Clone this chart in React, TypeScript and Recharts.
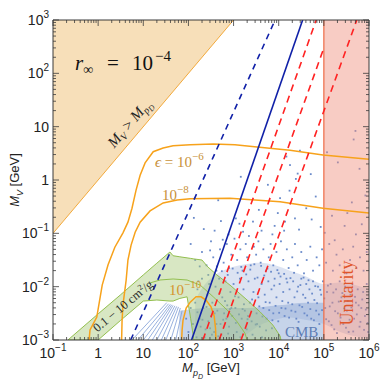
import React from "react";
import { Area, ComposedChart, Line, Scatter, XAxis, YAxis } from "recharts";

// every value is log10: x = log10(M_pD / GeV), y = log10(M_V / GeV)
const xMajor = [-1, 0, 1, 2, 3, 4, 5, 6];
const yMajor = [-3, -2, -1, 0, 1, 2, 3];
const minorSteps = [0.301, 0.477, 0.602, 0.699, 0.778, 0.845, 0.903, 0.954];

// filled regions: [x, low, high]
const forbidden = [[-1, -1, 3], [3, 3, 3]];
const cmbRegion = [[1.8, -3, -2.45], [2.5, -3, -2.4], [3.3, -3, -2.4], [4.0, -3, -2.35], [4.6, -3, -2.3], [5.0, -3, -2.3]];
const denseCloud = [
  [2.15, -3, -2.25], [2.37, -3, -1.95], [2.59, -3, -1.78], [2.92, -3, -1.65], [3.25, -2.91, -1.58],
  [3.59, -2.72, -1.55], [3.92, -2.62, -1.6], [4.25, -2.58, -1.7], [4.58, -2.62, -1.8],
  [5.0, -2.7, -1.95], [5.36, -2.85, -1.92], [5.69, -2.93, -1.97], [6.0, -2.97, -2.05],
];
const sigmaBand = [
  [-0.67, -3, -3], [0.0, -3, -2.51], [0.5, -2.63, -2.15], [1.0, -2.27, -1.78], [1.3, -2.25, -1.56],
  [1.59, -2.27, -1.35], [1.66, -2.27, -1.42], [1.81, -2.22, -1.44], [1.97, -2.19, -1.46],
  [2.05, -2.6, -1.47], [2.12, -3, -1.48], [2.3, -3, -1.5], [2.43, -3, -1.63], [2.63, -3, -1.78],
  [2.92, -3, -1.97], [3.3, -3, -2.25], [3.59, -3, -2.475], [3.87, -3, -2.72], [4.03, -3, -2.925], [4.05, -3, -3],
];
const unitarity = [[5, -3, 3], [6, -3, 3]];

// curves: [x, y]
const diagonal = [[-1, -1], [3, 3]];
const sigmaMid = [[1.15, -1.93], [1.37, -1.875], [1.66, -1.856], [1.97, -1.875], [2.26, -1.97], [2.55, -2.19], [2.86, -2.44], [3.08, -2.66], [3.25, -2.87], [3.3, -3]];
const eps6 = [
  [-0.2, -3], [-0.18, -2.81], [-0.03, -2.57], [0.09, -1.97], [0.22, -1.59], [0.37, -1.26], [0.55, -0.99],
  [0.66, -0.79], [0.75, -0.53], [0.84, -0.19], [0.93, 0.09], [1.04, 0.32], [1.22, 0.53], [1.44, 0.6],
  [1.66, 0.64], [2.04, 0.66], [2.55, 0.675], [3.03, 0.66], [3.52, 0.62], [4.25, 0.56], [4.98, 0.47], [6.0, 0.39],
];
const eps8 = [
  [0.52, -3], [0.53, -2.63], [0.55, -2.34], [0.62, -1.88], [0.66, -1.5], [0.73, -1.22], [0.82, -0.98],
  [0.93, -0.79], [1.15, -0.58], [1.44, -0.43], [1.75, -0.375], [2.04, -0.35], [2.92, -0.34], [4.03, -0.41], [4.98, -0.53], [6.0, -0.62],
];
const eps10 = [[1.85, -3], [1.86, -2.81], [1.88, -2.63], [1.95, -2.4], [2.04, -2.29], [2.17, -2.19], [2.28, -2.19], [2.39, -2.25], [2.5, -2.38], [2.57, -2.55], [2.6, -2.78], [2.61, -3]];
const blueDashed = [[0.72, -3], [3.92, 3]];
const blueSolid = [[2.07, -3], [4.53, 3]];
const redA = [[2.32, -3], [4.83, 3]];
const redB = [[2.68, -3], [5.0, 2.475]];
const redC = [[3.165, -3], [5.73, 3]];
// fan streaks under the band: [x at bottom, x at top, y at top]
const fan = [[0.75, 1.52, -2.3], [0.88, 1.56, -2.32], [1.0, 1.6, -2.33], [1.1, 1.63, -2.34], [1.2, 1.66, -2.35], [1.3, 1.7, -2.36], [1.4, 1.74, -2.37], [1.5, 1.78, -2.38], [1.61, 1.82, -2.4], [1.72, 1.86, -2.45]];

const sparsePoints = [
  [4.17, 0.44], [4.25, 0.28], [4.42, 0.12], [3.76, -0.09], [4.03, -0.34], [4.24, -0.2], [4.38, 0.02], [4.36, -0.72], [4.82, -0.31],
  [4.93, -0.88], [5.07, 0.52], [5.62, -0.42], [5.7, 0.92], [5.66, 0.76], [5.79, 0.21], [5.46, -0.86], [5.71, -1.02], [3.13, -0.82],
  [3.21, -0.97], [3.43, -0.78], [2.72, -0.77], [2.66, -0.38], [2.12, -0.71], [2.34, -0.92], [3.16, 0.06], [3.56, -0.56], [3.91, -0.86],
  [4.61, -0.53], [4.71, 0.11], [5.31, 0.33], [5.92, -0.29], [4.47, 0.55], [3.98, -0.62], [2.89, -1.02], [5.18, -0.67], [4.12, -0.95],
  [2.58, -0.95], [2.76, -1.12], [3.05, -0.72], [3.34, -1.05], [3.62, -0.95], [3.86, -1.02], [4.14, -0.78], [4.45, -0.93],
  [4.73, -0.74], [5.02, -0.99], [5.24, -1.13], [5.52, -0.62], [5.84, -0.83],
];
const midPoints = [
  [2.05, -1.2], [2.15, -1.5], [2.3, -1.35], [2.4, -1.6], [2.5, -1.15], [2.55, -1.45], [2.62, -1.7], [2.7, -1.3], [2.78, -1.55],
  [2.85, -1.2], [2.9, -1.65], [2.95, -1.4], [3.02, -1.1], [3.08, -1.5], [3.15, -1.3], [3.2, -1.7], [3.27, -1.2], [3.3, -1.45],
  [3.38, -1.6], [3.45, -1.25], [3.5, -1.4], [3.55, -1.15], [3.6, -1.55], [3.66, -1.3], [3.72, -1.7], [3.78, -1.45], [3.82, -1.2],
  [3.88, -1.6], [3.95, -1.35], [4.0, -1.75], [4.05, -1.15], [4.1, -1.5], [4.18, -1.3], [4.22, -1.65], [4.3, -1.45], [4.36, -1.2],
  [4.42, -1.6], [4.5, -1.35], [4.56, -1.75], [4.62, -1.5], [4.7, -1.25], [4.76, -1.7], [4.84, -1.45], [4.9, -1.6], [4.96, -1.3],
  [5.05, -1.55], [5.12, -1.2], [5.2, -1.7], [5.28, -1.4], [5.35, -1.6], [5.42, -1.3], [5.5, -1.75], [5.58, -1.5], [5.65, -1.25],
  [5.72, -1.65], [5.8, -1.45], [5.88, -1.7], [5.95, -1.35], [2.48, -1.32], [2.25, -1.62], [2.44, -1.78], [2.22, -1.9],
];
const densePoints = [
  [2.15, -2.3], [2.2, -2.05], [2.25, -2.6], [2.3, -1.85], [2.33, -2.4], [2.38, -2.8], [2.42, -2.15], [2.46, -1.95], [2.5, -2.55],
  [2.53, -2.3], [2.57, -2.85], [2.6, -2.0], [2.64, -2.45], [2.68, -1.85], [2.71, -2.7], [2.75, -2.2], [2.79, -2.5], [2.82, -1.9],
  [2.86, -2.35], [2.9, -2.75], [2.93, -2.1], [2.97, -2.55], [3.0, -1.95], [3.04, -2.4], [3.07, -2.85], [3.11, -2.2], [3.14, -1.85],
  [3.18, -2.6], [3.22, -2.05], [3.25, -2.45], [3.29, -2.8], [3.33, -1.9], [3.36, -2.3], [3.4, -2.65], [3.44, -2.1], [3.47, -1.85],
  [3.51, -2.5], [3.55, -2.2], [3.58, -2.75], [3.62, -1.95], [3.66, -2.4], [3.69, -2.15], [3.73, -2.6], [3.77, -1.9], [3.8, -2.3],
  [3.84, -2.05], [3.88, -2.5], [3.91, -1.85], [3.95, -2.2], [3.99, -2.65], [4.02, -1.95], [4.06, -2.4], [4.1, -2.1], [4.13, -2.55],
  [4.17, -1.85], [4.21, -2.3], [4.24, -2.05], [4.28, -2.45], [4.32, -1.9], [4.35, -2.2], [4.39, -2.6], [4.43, -2.0], [4.46, -2.35],
  [4.5, -1.85], [4.54, -2.15], [4.57, -2.5], [4.61, -1.95], [4.65, -2.3], [4.68, -2.05], [4.72, -2.6], [4.76, -1.9], [4.79, -2.25],
  [4.83, -2.45], [4.87, -2.0], [4.9, -2.7], [4.94, -2.15], [4.98, -1.9], [5.03, -2.4], [5.07, -2.1], [5.11, -2.65], [5.15, -1.95],
  [5.19, -2.3], [5.23, -2.8], [5.27, -2.05], [5.31, -2.5], [5.35, -1.9], [5.39, -2.2], [5.43, -2.7], [5.47, -2.0], [5.51, -2.45],
  [5.55, -2.85], [5.59, -2.15], [5.63, -1.95], [5.67, -2.6], [5.71, -2.3], [5.75, -2.05], [5.79, -2.75], [5.83, -2.4], [5.87, -2.1],
  [5.91, -2.55], [5.95, -1.95], [5.98, -2.85],
  [2.63, -1.62], [2.69, -2.12], [2.74, -1.71], [2.81, -2.27], [2.87, -1.78], [2.92, -2.42], [2.98, -1.66], [3.03, -2.18], [3.09, -1.74],
  [3.12, -2.52], [3.17, -1.63], [3.23, -2.33], [3.28, -1.77], [3.31, -2.61], [3.37, -1.68], [3.41, -2.24], [3.46, -1.58], [3.49, -2.71],
  [3.53, -1.83], [3.57, -2.37], [3.61, -1.61], [3.64, -2.56], [3.68, -1.79], [3.71, -2.29], [3.75, -1.66], [3.79, -2.44], [3.83, -1.72],
  [3.86, -2.63], [3.9, -1.98], [3.93, -2.36], [3.97, -1.69], [4.01, -2.49], [4.04, -1.81], [4.08, -2.27], [4.12, -1.76], [4.15, -2.41],
  [4.19, -1.92], [4.23, -2.58], [4.26, -1.84], [4.3, -2.33], [4.34, -1.74], [4.37, -2.47], [4.41, -2.09], [4.44, -2.66], [4.48, -1.97],
  [4.52, -2.38], [4.55, -1.83], [4.59, -2.21], [4.63, -2.54], [4.66, -1.88], [4.7, -2.42], [4.74, -2.13], [4.78, -2.63], [4.81, -1.99],
  [4.85, -2.31], [4.89, -2.52], [4.92, -2.06], [4.96, -2.44], [5.01, -2.22], [5.05, -2.61], [5.09, -1.98], [5.13, -2.37], [5.17, -2.72],
  [5.21, -2.11], [5.25, -2.46], [5.29, -2.87], [5.33, -2.28], [5.37, -2.58], [5.41, -2.12], [5.45, -2.41], [5.49, -2.77], [5.53, -2.27],
  [5.57, -2.62], [5.61, -2.39], [5.65, -2.84], [5.69, -2.19], [5.73, -2.52], [5.77, -2.35], [5.81, -2.66], [5.85, -2.24], [5.89, -2.81],
  [5.93, -2.43], [5.97, -2.68],
  [1.95, -2.6], [2.0, -2.85], [2.05, -2.4], [2.1, -2.7], [2.18, -2.95], [2.27, -2.75], [2.36, -2.95], [2.44, -2.65], [2.52, -2.9],
  [2.62, -2.7], [2.73, -2.9], [2.84, -2.6], [2.2, -2.48], [2.31, -2.62], [2.4, -2.38], [2.48, -2.78], [2.58, -2.5], [2.66, -2.93],
  [2.77, -2.62], [2.88, -2.88], [2.95, -2.4], [3.05, -2.68], [3.15, -2.95], [3.2, -2.42], [3.32, -2.55], [3.42, -2.9], [3.52, -2.7],
  [3.63, -2.95], [3.72, -2.82], [3.85, -2.78],
];

const xTicks = [...xMajor, ...xMajor.slice(0, -1).flatMap((n) => minorSteps.map((s) => n + s))];
const yTicks = [...yMajor, ...yMajor.slice(0, -1).flatMap((n) => minorSteps.map((s) => n + s))];

const pts = (a: number[][]) => a.map(([x, y]) => ({ x, y }));
const band = (a: number[][]) => a.map(([x, lo, hi]) => ({ x, v: [lo, hi] }));

const SANS = "'Liberation Sans', Arial, sans-serif";
const SERIF = "'Liberation Serif', 'DejaVu Serif', serif";
const FRAME = "#3a3a3a";

function powLabel(v: number, x: number, y: number, anchor: "middle" | "end") {
  const common = { x, y, textAnchor: anchor, fontFamily: SANS, fontSize: 14, fill: "#222" };
  if (v === 0) return <text {...common}>1</text>;
  if (v === 1) return <text {...common}>10</text>;
  return (
    <text {...common}>
      10<tspan dy={-7} fontSize={10}>{v < 0 ? `\u2212${-v}` : v}</tspan>
    </text>
  );
}

function makeTick(side: "bottom" | "top" | "left" | "right") {
  return (p: any) => {
    const v = p.payload.value as number;
    const major = Math.abs(v - Math.round(v)) < 1e-6;
    const len = major ? 6 : 3;
    const { x, y } = p;
    const st = { stroke: FRAME, strokeWidth: 0.8 };
    if (side === "bottom")
      return (
        <g>
          <line x1={x} y1={y} x2={x} y2={y - len} {...st} />
          {major && powLabel(Math.round(v), x, y + 18, "middle")}
        </g>
      );
    if (side === "top") return <line x1={x} y1={y} x2={x} y2={y + len} {...st} />;
    if (side === "left")
      return (
        <g>
          <line x1={x} y1={y} x2={x + len} y2={y} {...st} />
          {major && powLabel(Math.round(v), x - 4, y + 5, "end")}
        </g>
      );
    return <line x1={x} y1={y} x2={x - len} y2={y} {...st} />;
  };
}

function note(key: string, x: number, y: number, z: number, render: (cx: number, cy: number) => React.ReactElement) {
  return (
    <Scatter key={key} data={[{ x, y }]} isAnimationActive={false} zIndex={z} shape={(p: any) => render(p.cx, p.cy)} />
  );
}

const dot = (p: any) => <rect x={p.cx - 0.9} y={p.cy - 0.9} width={1.8} height={1.8} fill="#6b8bca" />;

export default function App() {
  return (
    <div style={{ position: "absolute", left: 0, top: 0, width: 383, height: 383, background: "#fff" }}>
      <ComposedChart width={383} height={383} margin={{ top: 19, right: 13, bottom: 13, left: 8 }}>
        <XAxis type="number" dataKey="x" domain={[-1, 6]} allowDataOverflow ticks={xTicks} interval={0}
          height={30} tickSize={0} tickMargin={0} tick={makeTick("bottom")} axisLine={{ stroke: FRAME }} tickLine={false} />
        <XAxis xAxisId="top" orientation="top" type="number" dataKey="x" domain={[-1, 6]} allowDataOverflow ticks={xTicks}
          interval={0} height={1} tickSize={0} tickMargin={0} tick={makeTick("top")} axisLine={{ stroke: FRAME }} tickLine={false} />
        <YAxis type="number" dataKey="y" domain={[-3, 3]} allowDataOverflow ticks={yTicks} interval={0}
          width={45} tickSize={0} tickMargin={0} tick={makeTick("left")} axisLine={{ stroke: FRAME }} tickLine={false} />
        <YAxis yAxisId="right" orientation="right" type="number" dataKey="y" domain={[-3, 3]} allowDataOverflow ticks={yTicks}
          interval={0} width={1} tickSize={0} tickMargin={0} tick={makeTick("right")} axisLine={{ stroke: FRAME }} tickLine={false} />

        <Area data={band(forbidden)} dataKey="v" type="linear" fill="#f7dfb9" fillOpacity={1} stroke="none" isAnimationActive={false} zIndex={10} />
        <Line data={pts(diagonal)} dataKey="y" type="linear" stroke="#f2a93b" strokeWidth={1} dot={false} isAnimationActive={false} zIndex={11} />

        <Area data={band(cmbRegion)} dataKey="v" type="monotone" fill="#c6d4ea" fillOpacity={1} stroke="none" isAnimationActive={false} zIndex={12} />
        {fan.map(([bx, tx, ty], i) => (
          <Line key={`fan${i}`} data={pts([[bx, -3], [tx, ty]])} dataKey="y" type="linear" stroke="#7f9dd6" strokeWidth={0.8}
            dot={false} isAnimationActive={false} zIndex={13} />
        ))}
        <Area data={band(denseCloud)} dataKey="v" type="monotone" fill="#8aa3d4" fillOpacity={0.3} stroke="none" isAnimationActive={false} zIndex={14} />
        <Scatter data={pts(sparsePoints)} shape={dot} isAnimationActive={false} zIndex={15} />
        <Scatter data={pts(midPoints)} shape={dot} isAnimationActive={false} zIndex={15} />
        <Scatter data={pts(densePoints)} shape={dot} isAnimationActive={false} zIndex={15} />

        <Area data={band(sigmaBand)} dataKey="v" type="linear" fill="#a8c97a" fillOpacity={0.45} stroke="#93bf4f" strokeWidth={1}
          isAnimationActive={false} zIndex={16} />
        <Line data={pts(sigmaMid)} dataKey="y" type="linear" stroke="#93bf4f" strokeWidth={1} dot={false} isAnimationActive={false} zIndex={17} />

        <Area data={band(unitarity)} dataKey="v" type="linear" fill="#ef8f7c" fillOpacity={0.45} stroke="none" isAnimationActive={false} zIndex={18} />
        <Line data={pts([[5, -3], [5, 3]])} dataKey="y" type="linear" stroke="#ee6a45" strokeWidth={1.2} dot={false} isAnimationActive={false} zIndex={19} />

        <Line data={pts(eps6)} dataKey="y" type="linear" stroke="#f7a21b" strokeWidth={1.5} dot={false} isAnimationActive={false} zIndex={20} />
        <Line data={pts(eps8)} dataKey="y" type="linear" stroke="#f7a21b" strokeWidth={1.5} dot={false} isAnimationActive={false} zIndex={20} />
        <Line data={pts(eps10)} dataKey="y" type="linear" stroke="#f7a21b" strokeWidth={1.5} dot={false} isAnimationActive={false} zIndex={20} />

        <Line data={pts(blueDashed)} dataKey="y" type="linear" stroke="#1020a8" strokeWidth={1.6} strokeDasharray="6 5" dot={false} isAnimationActive={false} zIndex={21} />
        <Line data={pts(blueSolid)} dataKey="y" type="linear" stroke="#1020a8" strokeWidth={1.6} dot={false} isAnimationActive={false} zIndex={21} />
        <Line data={pts(redA)} dataKey="y" type="linear" stroke="#ff2222" strokeWidth={1.6} strokeDasharray="7 5" dot={false} isAnimationActive={false} zIndex={21} />
        <Line data={pts(redB)} dataKey="y" type="linear" stroke="#ff2222" strokeWidth={1.6} strokeDasharray="7 5" dot={false} isAnimationActive={false} zIndex={21} />
        <Line data={pts(redC)} dataKey="y" type="linear" stroke="#ff2222" strokeWidth={1.6} strokeDasharray="7 5" dot={false} isAnimationActive={false} zIndex={21} />

        {note("rinf", -0.513, 2.063, 30, (cx, cy) => (
          <text x={cx} y={cy} fontFamily={SERIF} fontSize={21} fill="#111">
            <tspan fontStyle="italic">r</tspan>
            <tspan fontSize={14} dy={4}>∞</tspan>
            <tspan x={cx + 32} dy={-4}>=</tspan>
            <tspan x={cx + 57}>10</tspan>
            <tspan x={cx + 80} dy={-9} fontSize={15}>{"\u22124"}</tspan>
          </text>
        ))}
        {note("mv", 0.688, 1.065, 30, (cx, cy) => (
          <text x={cx} y={cy} textAnchor="middle" dy={5} fontFamily={SERIF} fontSize={15} fill="#222"
            transform={`rotate(-49.8 ${cx} ${cy})`}>
            <tspan fontStyle="italic">M</tspan>
            <tspan fontStyle="italic" fontSize={10} dy={3}>V</tspan>
            <tspan dy={-3}>{" > "}</tspan>
            <tspan fontStyle="italic">M</tspan>
            <tspan fontStyle="italic" fontSize={10} dy={3}>p</tspan>
            <tspan fontStyle="italic" fontSize={8} dy={2}>D</tspan>
          </text>
        ))}
        {note("e6", 1.26, 0.244, 30, (cx, cy) => (
          <text x={cx} y={cy} fontFamily={SERIF} fontSize={15} fill="#c8913a">
            <tspan fontStyle="italic">ϵ</tspan>
            <tspan>{" = 10"}</tspan>
            <tspan dy={-7} fontSize={11}>{"\u22126"}</tspan>
          </text>
        ))}
        {note("e8", 1.415, -0.375, 30, (cx, cy) => (
          <text x={cx} y={cy} fontFamily={SERIF} fontSize={15} fill="#c8913a">
            10<tspan dy={-7} fontSize={11}>{"\u22128"}</tspan>
          </text>
        ))}
        {note("e10", 1.57, -2.156, 30, (cx, cy) => (
          <text x={cx} y={cy} fontFamily={SERIF} fontSize={15} fill="#d4952e">
            10<tspan dy={-7} fontSize={11}>{"\u221210"}</tspan>
          </text>
        ))}
        {note("sig", 0.551, -2.3625, 30, (cx, cy) => (
          <text x={cx} y={cy} dy={4} textAnchor="middle" fontFamily={SERIF} fontSize={12.5} fill="#2a2a2a"
            transform={`rotate(-39.5 ${cx} ${cy})`}>
            0.1 − 10 cm<tspan dy={-5} fontSize={8}>2</tspan><tspan dy={5}>/g</tspan>
          </text>
        ))}
        {note("cmb", 4.14, -2.944, 30, (cx, cy) => (
          <text x={cx} y={cy} fontFamily={SERIF} fontSize={15} fill="#5e7db5">CMB</text>
        ))}
        {note("uni", 5.513, -2.119, 30, (cx, cy) => (
          <text x={cx} y={cy} dy={6} textAnchor="middle" fontFamily={SERIF} fontSize={18} fill="#e0552a"
            transform={`rotate(-90 ${cx} ${cy})`}>Unitarity</text>
        ))}
      </ComposedChart>
      <div style={{ position: "absolute", left: 16, top: 180, transform: "translate(-50%, -50%) rotate(-90deg)",
        whiteSpace: "nowrap", fontFamily: SANS, fontSize: 13, color: "#222" }}>
        <i>M</i><sub style={{ fontSize: 9, fontStyle: "italic" }}>V</sub> [GeV]
      </div>
      <div style={{ position: "absolute", left: 211, top: 370, transform: "translate(-50%, -50%)",
        whiteSpace: "nowrap", fontFamily: SANS, fontSize: 13, color: "#222" }}>
        <i>M</i><sub style={{ fontSize: 9, fontStyle: "italic" }}>p<sub style={{ fontSize: 7 }}>D</sub></sub> [GeV]
      </div>
    </div>
  );
}
